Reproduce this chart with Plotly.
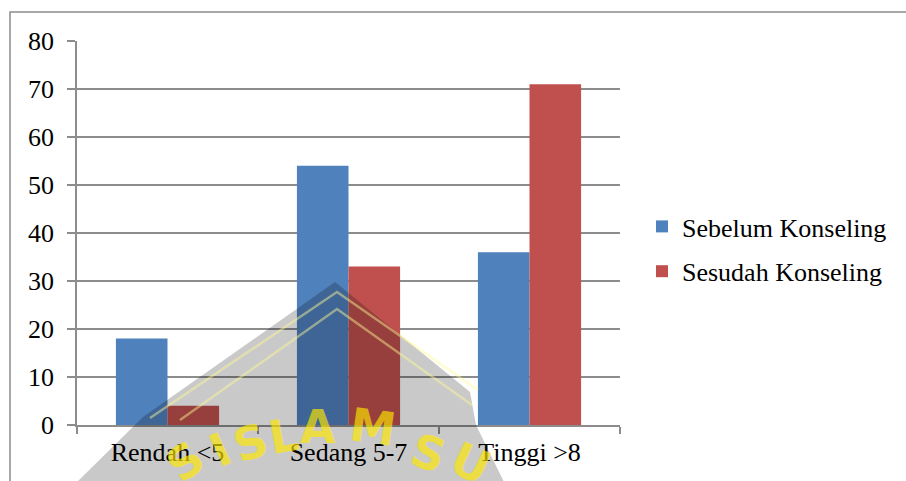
import plotly.graph_objects as go

categories = ["Rendah <5", "Sedang 5-7", "Tinggi >8"]
sebelum = [18, 54, 36]
sesudah = [4, 33, 71]
series_names = ["Sebelum Konseling", "Sesudah Konseling"]
colors = ["#4F81BD", "#C0504D"]

W, H = 906, 481
L, R, T, B = 77, 286, 41, 56
PW, PH = W - L - R, H - T - B
FONT = "Times New Roman, Liberation Serif, serif"


def px(x):
    return (x - L) / PW


def py(y):
    return (H - B - y) / PH


def path(pts):
    s = "M " + " L ".join(f"{px(x):.4f},{py(y):.4f}" for x, y in pts)
    return s


fig = go.Figure()
for name, vals, col in zip(series_names, [sebelum, sesudah], colors):
    fig.add_trace(go.Bar(
        x=categories, y=vals, name=name, marker_color=col,
        marker_line_width=0, legendgroup=name,
    ))

shapes = [
    # outer chart border
    dict(type="rect", xref="paper", yref="paper", x0=px(10), y0=py(12), x1=px(912), y1=py(500),
         line=dict(color="#8C8C8C", width=1.5), fillcolor="rgba(0,0,0,0)", layer="below"),
    # watermark (gray translucent logo body)
    dict(type="path", xref="paper", yref="paper",
         path=path([(335, 282), (470, 392), (476, 425), (505, 484), (75, 484), (143, 417)]) + " Z",
         fillcolor="rgba(0,0,0,0.21)", line=dict(width=0), layer="above"),
    dict(type="path", xref="paper", yref="paper",
         path=path([(150, 418), (337, 292), (478, 390)]),
         line=dict(color="rgba(255,250,150,0.45)", width=2.5), layer="above"),
    dict(type="path", xref="paper", yref="paper",
         path=path([(180, 420), (337, 309), (472, 405)]),
         line=dict(color="rgba(255,250,150,0.45)", width=2.5), layer="above"),
]

letters = [("S", 185, 462, -35), ("I", 220, 450, -25), ("S", 250, 443, -17), ("L", 283, 436, -10),
           ("A", 318, 427, 0), ("M", 373, 427, 8), ("S", 428, 453, 18), ("U", 470, 463, 25)]
annotations = []
for ch, x, y, rot in letters:
    annotations.append(dict(
        text=f"<b>{ch}</b>", x=px(x), y=py(y), xref="paper", yref="paper",
        xanchor="center", yanchor="middle",
        showarrow=False, textangle=rot,
        font=dict(family="DejaVu Sans, sans-serif", size=46, color="rgba(255,232,0,0.68)"),
    ))

fig.update_layout(
    width=W, height=H,
    margin=dict(l=L, r=R, t=T, b=B, pad=0),
    paper_bgcolor="white", plot_bgcolor="white",
    font=dict(family=FONT, size=26, color="black"),
    barmode="group", bargap=0.43, bargroupgap=0,
    showlegend=True,
    legend=dict(x=px(642), y=py(249), xanchor="left", yanchor="middle",
                font=dict(family=FONT, size=26, color="black"),
                traceorder="grouped", tracegroupgap=8,
                bgcolor="rgba(0,0,0,0)"),
    shapes=shapes,
    annotations=annotations,
)
fig.update_xaxes(
    showline=True, linecolor="#8C8C8C", linewidth=1.5,
    ticks="outside", ticklen=7, tickcolor="#8C8C8C", tickwidth=1.5,
    tickson="boundaries", showgrid=False, ticklabelstandoff=3,
    tickfont=dict(family=FONT, size=26, color="black"),
)
fig.update_yaxes(
    range=[0, 80], dtick=10, showline=True, linecolor="#8C8C8C", linewidth=1.5,
    ticks="outside", ticklen=8, tickcolor="#8C8C8C", tickwidth=1.5,
    showgrid=True, gridcolor="#8C8C8C", gridwidth=1.5, zeroline=False,
    ticklabelstandoff=8,
    tickfont=dict(family=FONT, size=26, color="black"),
)

fig.write_html("out.html")
